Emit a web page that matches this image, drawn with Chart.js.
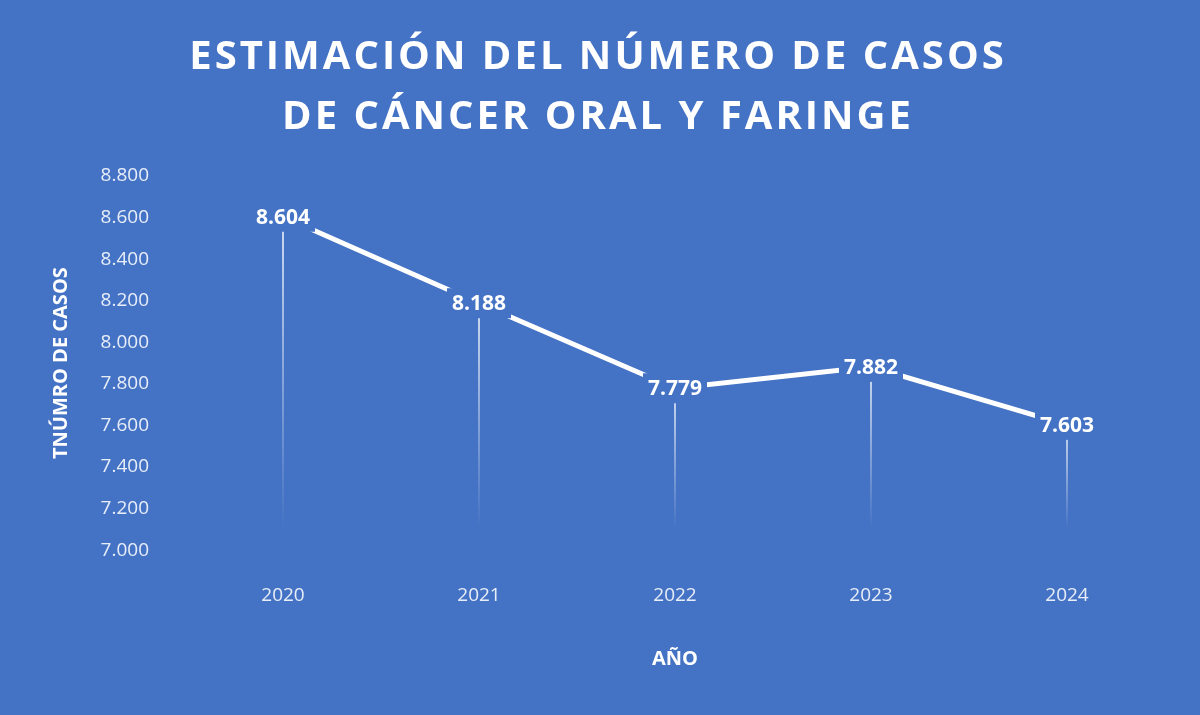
<!DOCTYPE html>
<html>
<head>
<meta charset="utf-8">
<script src="https://cdn.jsdelivr.net/npm/chart.js@4"></script>
<style>
  html, body { margin: 0; padding: 0; background: #4472C4; }
  #wrap { width: 1200px; height: 715px; }
</style>
</head>
<body>
<div id="wrap"><canvas id="chart" width="1200" height="715"></canvas></div>
<script>
const years = ["2020", "2021", "2022", "2023", "2024"];
const casos = [8604, 8188, 7779, 7882, 7603];
const yTicks = [7000, 7200, 7400, 7600, 7800, 8000, 8200, 8400, 8600, 8800];
const titleLines = ["ESTIMACIÓN DEL NÚMERO DE CASOS", "DE CÁNCER ORAL Y FARINGE"];

const fmt = v => v.toLocaleString("de-DE");
const BG = "#4472C4";

// title drawn by hand so the letters can be spaced out
const spacedTitle = {
  id: "spacedTitle",
  afterDraw(chart) {
    const ctx = chart.ctx;
    ctx.save();
    ctx.font = "bold 40px 'Open Sans', sans-serif";
    ctx.letterSpacing = "3px";
    ctx.fillStyle = "#ffffff";
    ctx.textAlign = "center";
    ctx.textBaseline = "middle";
    titleLines.forEach((t, i) => ctx.fillText(t, 598, 58 + i * 60));
    ctx.restore();
  }
};

// drop lines from each point fading down toward the axis
const dropLines = {
  id: "dropLines",
  beforeDatasetsDraw(chart) {
    const ctx = chart.ctx;
    const meta = chart.getDatasetMeta(0);
    const bottom = chart.chartArea.bottom - 20;
    meta.data.forEach(pt => {
      const g = ctx.createLinearGradient(0, pt.y, 0, bottom);
      g.addColorStop(0, "rgba(255,255,255,1)");
      g.addColorStop(1, "rgba(255,255,255,0)");
      ctx.save();
      ctx.strokeStyle = g;
      ctx.lineWidth = 1.5;
      ctx.beginPath();
      ctx.moveTo(pt.x, pt.y);
      ctx.lineTo(pt.x, bottom);
      ctx.stroke();
      ctx.restore();
    });
  }
};

// value labels sitting on the points, masking the line
const valueLabels = {
  id: "valueLabels",
  afterDatasetsDraw(chart) {
    const ctx = chart.ctx;
    const meta = chart.getDatasetMeta(0);
    ctx.save();
    ctx.font = "bold 21px 'Open Sans', sans-serif";
    ctx.textAlign = "center";
    ctx.textBaseline = "middle";
    meta.data.forEach((pt, i) => {
      const txt = fmt(casos[i]);
      const w = ctx.measureText(txt).width + 10;
      ctx.fillStyle = BG;
      ctx.fillRect(pt.x - w / 2, pt.y - 15, w, 30);
      ctx.fillStyle = "#ffffff";
      ctx.fillText(txt, pt.x, pt.y + 1);
    });
    ctx.restore();
  }
};

new Chart(document.getElementById("chart").getContext("2d"), {
  type: "line",
  data: {
    labels: years,
    datasets: [{
      data: casos,
      borderColor: "#ffffff",
      borderWidth: 5,
      pointRadius: 0,
      tension: 0
    }]
  },
  options: {
    responsive: false,
    animation: false,
    layout: { padding: { left: 45, right: 35, top: 176, bottom: 40 } },
    plugins: {
      legend: { display: false },
      tooltip: { enabled: false },
      title: { display: false }
    },
    scales: {
      x: {
        offset: true,
        grid: { display: false },
        border: { display: false },
        ticks: { color: "#e8eef8", font: { family: "'Open Sans', sans-serif", size: 19 }, padding: 26 },
        title: {
          display: true, text: "AÑO", color: "#ffffff",
          font: { family: "'Open Sans', sans-serif", size: 20, weight: "bold" },
          padding: { top: 14 }
        }
      },
      y: {
        min: 7000, max: 8800,
        afterBuildTicks: axis => { axis.ticks = yTicks.map(v => ({ value: v })); },
        afterFit: axis => { axis.width = 140; },
        grid: { display: false },
        border: { display: false },
        ticks: { color: "#e8eef8", font: { family: "'Open Sans', sans-serif", size: 19 }, padding: 28, callback: v => fmt(v) },
        title: {
          display: true, text: "TNÚMRO DE CASOS", color: "#ffffff",
          font: { family: "'Open Sans', sans-serif", size: 20, weight: "bold" },
          padding: { bottom: 4 }
        }
      }
    }
  },
  plugins: [dropLines, valueLabels, spacedTitle]
});
</script>
</body>
</html>
